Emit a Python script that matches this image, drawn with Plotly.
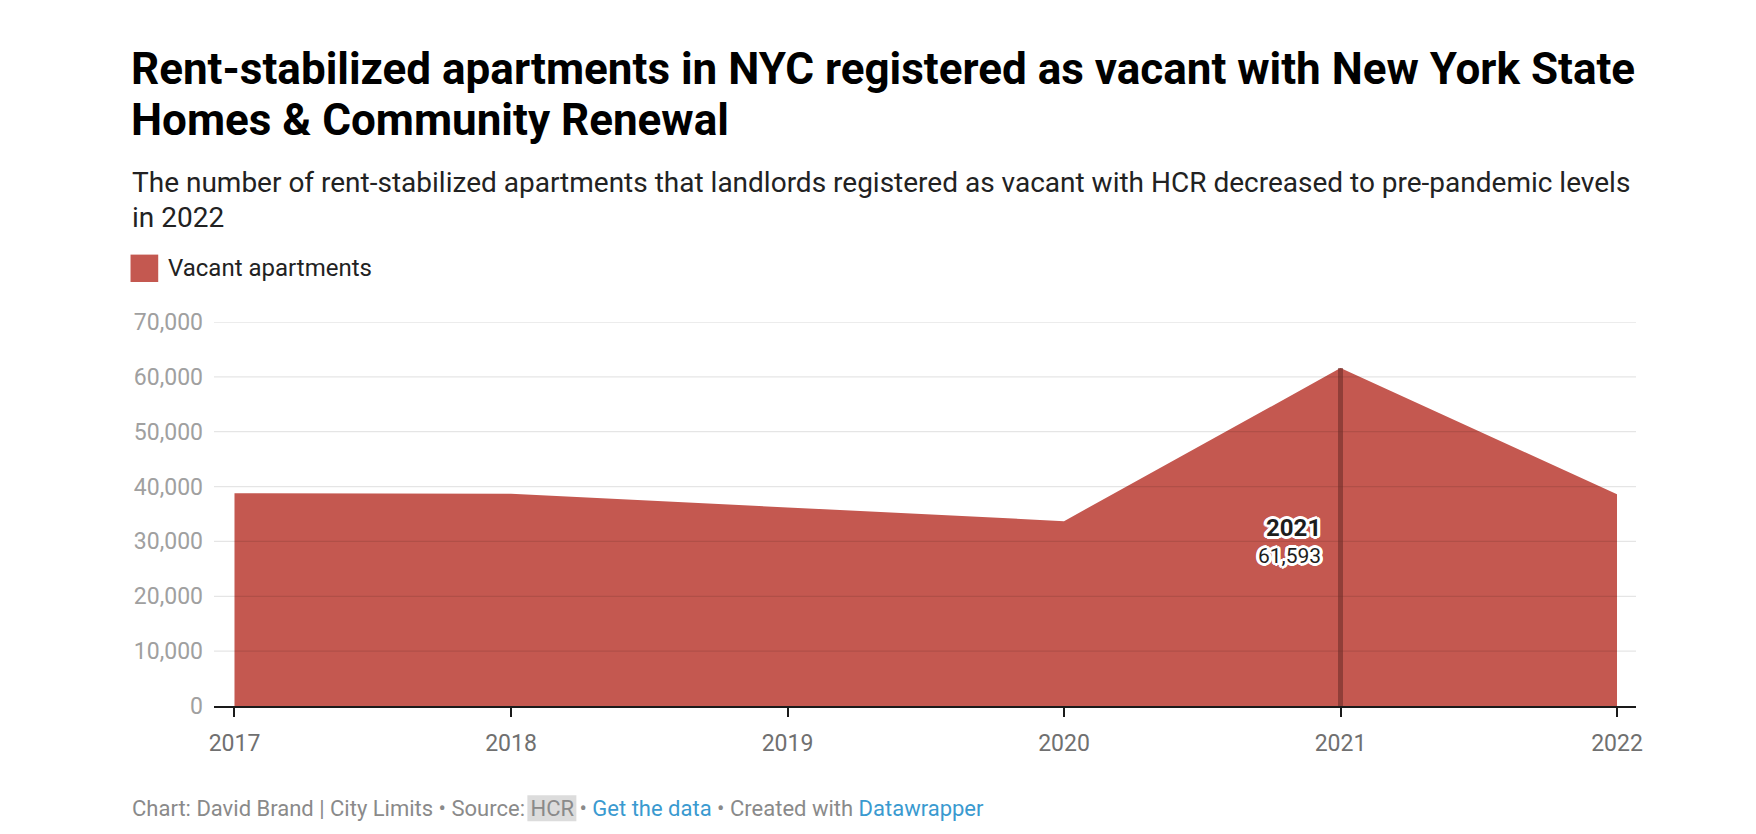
import plotly.graph_objects as go

# ---- data ----
years = [2017, 2018, 2019, 2020, 2021, 2022]
vacant = [38800, 38700, 36200, 33700, 61593, 38600]
series_name = "Vacant apartments"
highlight_year = 2021
y_ticks = [0, 10000, 20000, 30000, 40000, 50000, 60000, 70000]

title_lines = ["Rent-stabilized apartments in NYC registered as vacant with New York State",
               "Homes & Community Renewal"]
subtitle_lines = ["The number of rent-stabilized apartments that landlords registered as vacant with HCR decreased to pre-pandemic levels",
                  "in 2022"]

# ---- layout geometry (pixels) ----
W, H = 1756, 834
L, R, T, B = 213.5, 1636, 321.7, 705.7

def px(x):
    return (x - L) / (R - L)

def py(y):
    return (B - y) / (B - T)

AREA = "#c45850"
FONT = "Roboto"

fig = go.Figure()
fig.add_trace(go.Scatter(
    x=years, y=vacant, mode="lines", fill="tozeroy",
    fillcolor=AREA, line=dict(width=0, color=AREA),
    name=series_name, showlegend=False, hoverinfo="x+y"))

hi = years.index(highlight_year)
hv = vacant[hi]

shapes = []
# gridlines drawn above area (subtle darkening)
for t in y_ticks[1:]:
    shapes.append(dict(type="line", xref="x domain", yref="y", x0=0, x1=1, y0=t, y1=t,
                       line=dict(color="rgba(0,0,0,0.1)", width=1.3), layer="above"))
# highlight line
shapes.append(dict(type="line", xref="x", yref="y", x0=years[hi], x1=years[hi], y0=0, y1=hv,
                   line=dict(color="rgba(110,45,40,0.6)", width=5), layer="above"))
# legend swatch
shapes.append(dict(type="rect", xref="paper", yref="paper",
                   x0=px(130), x1=px(157.7), y0=py(281.7), y1=py(254.3),
                   fillcolor=AREA, line=dict(width=0)))
# HCR highlight box in footer
shapes.append(dict(type="rect", xref="paper", yref="paper",
                   x0=px(527), x1=px(576), y0=py(821), y1=py(795),
                   fillcolor="#dcdcdc", line=dict(width=0), layer="below"))

halo = ",".join(f"{dx}px {dy}px 0 #fff" for dx, dy in
                [(-2, -2), (2, -2), (-2, 2), (2, 2), (0, 2), (0, -2), (2, 0), (-2, 0),
                 (-3, 0), (3, 0), (0, 3), (0, -3), (-3, -1), (3, 1), (-3, 1), (3, -1)])

annotations = []
for i, line in enumerate(title_lines):
    annotations.append(dict(text=line, xref="paper", yref="paper", x=px(128), y=py(69 + 50.5 * i),
                            xanchor="left", yanchor="middle", showarrow=False,
                            font=dict(family=FONT, size=44, color="#000", weight=700)))
for i, line in enumerate(subtitle_lines):
    annotations.append(dict(text=line, xref="paper", yref="paper", x=px(129), y=py(182 + 35 * i),
                            xanchor="left", yanchor="middle", showarrow=False,
                            font=dict(family=FONT, size=28, color="#222")))
annotations.append(dict(text=series_name, xref="paper", yref="paper", x=px(165), y=py(268),
                        xanchor="left", yanchor="middle", showarrow=False,
                        font=dict(family=FONT, size=24, color="#222")))
annotations.append(dict(text=f"<span style='font-size:24px'><b>{highlight_year}</b></span><br>{hv:,}",
                        xref="x", yref="y",
                        x=years[hi], y=hv / 2, xanchor="right", yanchor="middle", xshift=-18, yshift=-4,
                        align="right", showarrow=False,
                        font=dict(family=FONT, size=21, color="#1d1d1d", shadow=halo)))
footer = ("Chart: David Brand | City Limits • Source: HCR • "
          "<span style='color:#3a9ad0'>Get the data</span> • Created with "
          "<span style='color:#3a9ad0'>Datawrapper</span>")
annotations.append(dict(text=footer, xref="paper", yref="paper", x=px(129), y=py(808.5),
                        xanchor="left", yanchor="middle", showarrow=False,
                        font=dict(family=FONT, size=22, color="#8a8a8a")))

x_span = (R - L) / ((1617 - 234) / (years[-1] - years[0]))
x0 = years[0] - (234 - L) / ((1617 - 234) / (years[-1] - years[0]))

fig.update_layout(
    width=W, height=H, autosize=False,
    margin=dict(l=L, r=W - R, t=T, b=H - B, pad=0),
    paper_bgcolor="white", plot_bgcolor="white",
    font=dict(family=FONT),
    showlegend=False,
    shapes=shapes, annotations=annotations,
    xaxis=dict(range=[x0, x0 + x_span], tickmode="array", tickvals=years,
               ticktext=[str(y) for y in years],
               showgrid=False, zeroline=False, showline=True, linecolor="#1a1a1a", linewidth=2,
               ticks="outside", ticklen=9, tickwidth=2, tickcolor="#1a1a1a",
               tickfont=dict(family=FONT, size=23, color="#707070"), ticklabelstandoff=6),
    yaxis=dict(range=[0, 70000], tickmode="array", tickvals=y_ticks,
               ticktext=[f"{v:,}" for v in y_ticks],
               showgrid=False, zeroline=False, showline=False, ticks="",
               tickfont=dict(family=FONT, size=23, color="#a0a0a0"), ticklabelstandoff=10),
)

fig.write_html("out.html")
